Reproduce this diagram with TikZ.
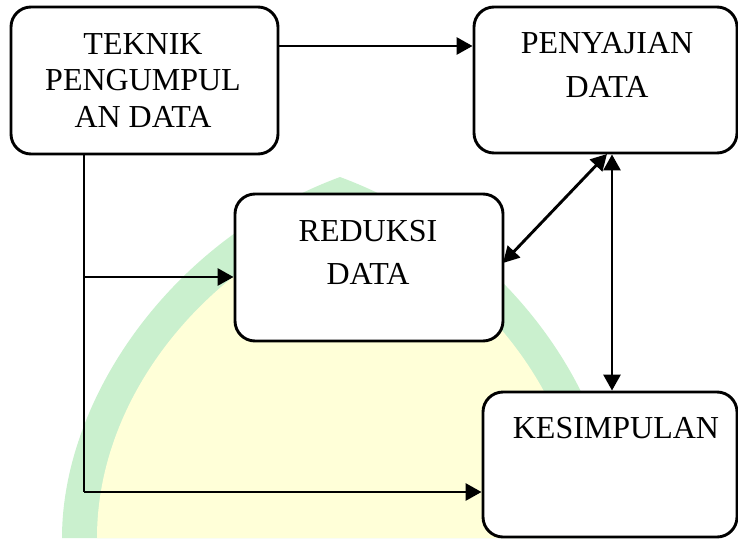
\documentclass[tikz,border=0pt]{standalone}
\usepackage{fontspec}
\setmainfont{Liberation Serif}
\usetikzlibrary{arrows.meta}
\definecolor{wmgreen}{RGB}{202,240,206}
\definecolor{wmyellow}{RGB}{255,255,216}
\tikzset{
  box/.style={draw=black, line width=2.9pt, rounded corners=20pt, fill=white, inner sep=0pt},
  lbl/.style={anchor=base, inner sep=0pt, font=\fontsize{32pt}{38pt}\selectfont},
  conn/.style={draw=black, line width=2.9pt},
  arr/.style={conn, -{Triangle[length=16pt,width=17pt]}},
  darr/.style={conn, {Triangle[length=16pt,width=17pt]}-{Triangle[length=16pt,width=17pt]}}
}
\begin{document}
\begin{tikzpicture}[x=1pt,y=-1pt]
\useasboundingbox (0,0) rectangle (738,538);
% watermark (faint dome)
\fill[wmgreen] (62,538) .. controls (62,400) and (170,240) .. (340,177)
  .. controls (510,240) and (618,400) .. (618,538) -- cycle;
\fill[wmyellow] (97,538) .. controls (97,400) and (200,270) .. (340,215)
  .. controls (480,270) and (583,400) .. (583,538) -- cycle;
% boxes
\node[box, minimum width=267pt, minimum height=147pt] (tek) at (144.5,80.5) {};
\node[box, minimum width=263pt, minimum height=146pt] (pen) at (605.5,80) {};
\node[box, minimum width=268pt, minimum height=147pt] (red) at (369,267.5) {};
\node[box, minimum width=254pt, minimum height=145pt] (kes) at (610,464.5) {};
% labels
\node[lbl] (tek1) at (143,54) {TEKNIK};
\node[lbl] (tek2) at (143,90) {PENGUMPUL};
\node[lbl] (tek3) at (143,127) {AN DATA};
\node[lbl] (pen1) at (607,53) {PENYAJIAN};
\node[lbl] (pen2) at (607,97) {DATA};
\node[lbl] (red1) at (368,241) {REDUKSI};
\node[lbl] (red2) at (368,284) {DATA};
\node[lbl] (kes1) at (616,438) {KESIMPULAN};
% connector coordinates
\coordinate (a1) at (278,46);
\coordinate (c1) at (84,154);
\coordinate (c2) at (84,277);
\coordinate (c3) at (84,492);
\coordinate (d1) at (503,263);
\coordinate (d2) at (607,154);
\coordinate (v) at (612,0);
% connectors
\draw[arr] (a1) -- (pen.west |- a1);
\draw[conn] (c1) -- (c3);
\draw[arr] (c2) -- (red.west |- c2);
\draw[arr] (c3) -- (kes.west |- c3);
\draw[darr] (d1) -- (d2);
\draw[darr] (pen.south -| v) -- (kes.north -| v);
\end{tikzpicture}
\end{document}
